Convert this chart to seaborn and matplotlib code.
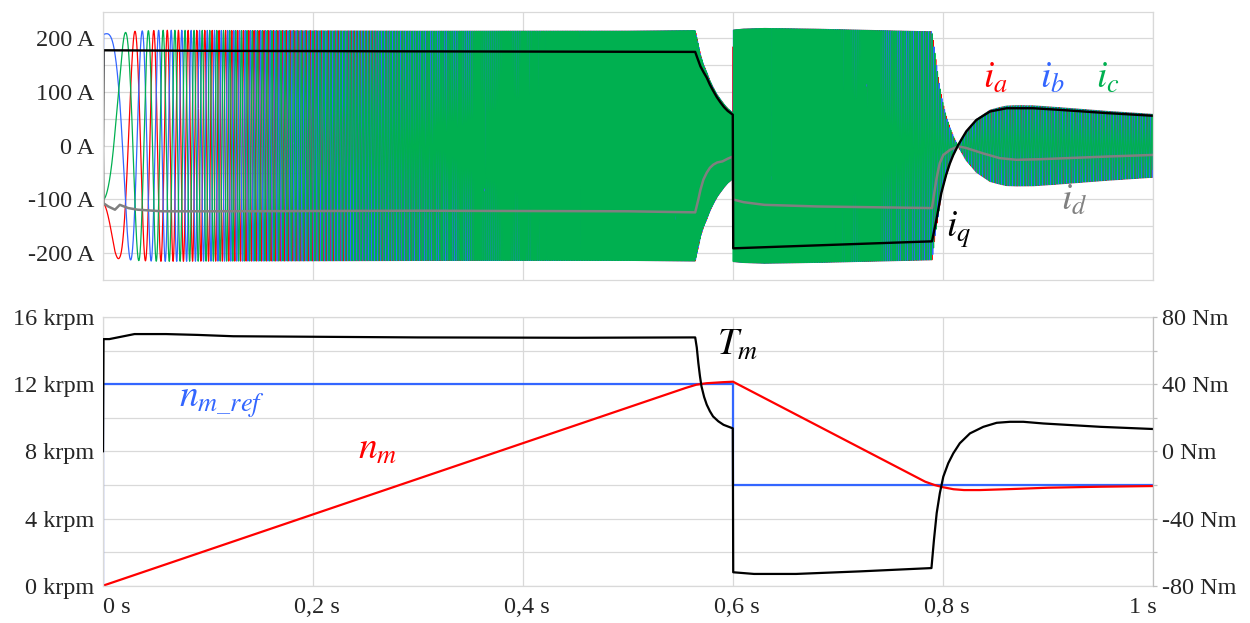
import numpy as np
import matplotlib
matplotlib.use("Agg")
import matplotlib.pyplot as plt
from matplotlib.ticker import FixedLocator
from matplotlib.transforms import ScaledTranslation
import seaborn as sns

# ---------------- traces (time in s) ----------------
# d-axis stator current, A
t_id = [0.0, 0.0005, 0.005, 0.0114, 0.016, 0.024, 0.033, 0.056, 0.1, 0.3, 0.5,
        0.564, 0.5655, 0.567, 0.569, 0.5718, 0.575, 0.578, 0.5813, 0.585,
        0.590, 0.595, 0.5998,
        0.6002, 0.61, 0.63, 0.68, 0.7895, 0.7915, 0.7937, 0.7955, 0.797,
        0.8003, 0.8067, 0.8146, 0.822, 0.838, 0.854, 0.870, 0.892, 0.956, 1.0]
i_d = [0, -107, -113, -119, -110, -116, -119, -122, -122, -121, -122,
       -124, -112, -100, -82, -63, -50, -41, -35, -31,
       -29, -24, -20,
       -100, -105, -110, -113, -116, -90, -63, -45, -32,
       -17, -7.5, -1, -4, -14, -23, -26, -25, -20, -17]

# q-axis stator current, A
t_iq = [0.0, 0.0005, 0.1, 0.3, 0.564, 0.566, 0.569, 0.572, 0.575, 0.578,
        0.581, 0.5845, 0.588, 0.5915, 0.595, 0.5998, 0.6002, 0.7895, 0.7937,
        0.7984, 0.803, 0.8065, 0.8098, 0.8146, 0.8222, 0.8317, 0.8448,
        0.8606, 0.886, 0.911, 0.956, 1.0]
i_q = [0, 178, 177, 176, 175, 164, 148, 137, 127, 114,
       103, 91, 81, 72, 65, 58, -191, -178, -138,
       -88, -54, -33, -17, 2, 27, 48, 64,
       70, 70, 67, 61, 56]

# rotor speed, krpm
t_nm = [0.0, 0.555, 0.565, 0.575, 0.59, 0.6, 0.783, 0.792, 0.80, 0.81,
        0.82, 0.835, 0.865, 0.90, 0.95, 1.0]
n_m = [0.0, 11.79, 11.98, 12.07, 12.13, 12.16, 6.2, 6.0, 5.87, 5.75,
       5.70, 5.70, 5.76, 5.84, 5.90, 5.94]

# speed reference, krpm
t_ref = [0.0, 0.0, 0.6, 0.6, 1.0]
n_ref = [0.0, 12.0, 12.0, 6.0, 6.0]

# electromagnetic torque, Nm
t_tm = [0.0, 0.0005, 0.006, 0.03, 0.06, 0.09, 0.124, 0.3, 0.45, 0.564,
        0.5655, 0.567, 0.5685, 0.570, 0.5725, 0.575, 0.578, 0.581, 0.586,
        0.591, 0.5998, 0.6002, 0.62, 0.66,
        0.72, 0.789, 0.7914, 0.794, 0.797, 0.8003, 0.805, 0.8098, 0.816,
        0.8257, 0.8384, 0.8511, 0.8638, 0.8765, 0.8955, 0.95, 1.0]
t_m = [0, 67, 67, 70, 70, 69.5, 68.7, 68, 67.8, 68,
       62, 52.7, 45, 38.8, 32.5, 27.9, 24, 20.9, 18,
       15.9, 13.8, -72, -73, -73,
       -71.5, -69.5, -52.6, -36.7, -24.8, -15, -7, -1.1, 4.9,
       10.8, 14.7, 17.1, 17.7, 17.7, 16.7, 14.7, 13.4]

POLE_PAIRS = 4

# ---------------- axis ticks ----------------
time_ticks = [0.0, 0.2, 0.4, 0.6, 0.8, 1.0]
time_labels = ["0 s", "0,2 s", "0,4 s", "0,6 s", "0,8 s", "1 s"]
cur_ticks = [-200, -100, 0, 100, 200]
cur_labels = ["-200 A", "-100 A", "0 A", "100 A", "200 A"]
speed_ticks = [0, 4, 8, 12, 16]
speed_labels = ["0 krpm", "4 krpm", "8 krpm", "12 krpm", "16 krpm"]
torque_ticks = [-80, -40, 0, 40, 80]
torque_labels = ["-80 Nm", "-40 Nm", "0 Nm", "40 Nm", "80 Nm"]

RED = "#FF0000"
BLUE = "#3366FF"
GREEN = "#00B050"
GREY = "#808080"
GRID = "#D9D9D9"

sns.set_theme(style="white")
plt.rcParams.update({
    "font.family": ["Liberation Serif", "DejaVu Serif"],
    "mathtext.fontset": "stix",
    "agg.path.chunksize": 20000,
    "axes.unicode_minus": False,
})

# ---------------- phase currents via inverse Park transform ----------------
t = np.linspace(0.0, 1.0, 200001)
d = np.interp(t, t_id, i_d)
q = np.interp(t, t_iq, i_q)
speed_rps = np.interp(t, t_nm, n_m) * 1000.0 / 60.0
theta_mech = 2 * np.pi * np.concatenate(
    [[0.0], np.cumsum(0.5 * (speed_rps[1:] + speed_rps[:-1]) * np.diff(t))])
theta = POLE_PAIRS * theta_mech


def phase_current(shift):
    return d * np.cos(theta - shift) - q * np.sin(theta - shift)


i_a = phase_current(0.0)
i_b = phase_current(2 * np.pi / 3)
i_c = phase_current(-2 * np.pi / 3)

# ---------------- figure ----------------
fig = plt.figure(figsize=(12.5, 6.23), dpi=100)
ax1 = fig.add_axes([0.0824, 0.5506, 0.84, 0.4307])
ax2 = fig.add_axes([0.0824, 0.0599, 0.84, 0.4308])
ax3 = ax2.twinx()

TICK_FS = 17.5
LABEL_FS = 27

# top: currents
for y, c in ((i_a, RED), (i_b, BLUE), (i_c, GREEN)):
    sns.lineplot(x=t, y=y, ax=ax1, color=c, lw=0.9, estimator=None, sort=False)
sns.lineplot(x=t_id, y=i_d, ax=ax1, color=GREY, lw=1.8, estimator=None, sort=False)
sns.lineplot(x=t_iq, y=i_q, ax=ax1, color="black", lw=1.7, estimator=None, sort=False)

ax1.set_xlim(0, 1)
ax1.set_ylim(-250, 250)
ax1.xaxis.set_major_locator(FixedLocator(time_ticks))
ax1.set_xticklabels([])
ax1.yaxis.set_major_locator(FixedLocator(cur_ticks))
ax1.yaxis.set_minor_locator(FixedLocator([-150, -50, 50, 150]))
ax1.set_yticklabels(cur_labels)
ax1.tick_params(axis="both", which="both", length=0)
ax1.tick_params(axis="y", labelsize=TICK_FS, pad=6)
ax1.grid(True, which="both", color=GRID, lw=0.9)
for s in ax1.spines.values():
    s.set_color(GRID)
    s.set_linewidth(0.9)
ax1.set_xlabel("")
ax1.set_ylabel("")

ax1.text(0.838, 107, r"$i_a$", color=RED, fontsize=LABEL_FS, va="baseline", ha="left")
ax1.text(0.892, 107, r"$i_b$", color=BLUE, fontsize=LABEL_FS, va="baseline", ha="left")
ax1.text(0.946, 107, r"$i_c$", color=GREEN, fontsize=LABEL_FS, va="baseline", ha="left")
ax1.text(0.912, -119, r"$i_d$", color=GREY, fontsize=LABEL_FS, va="baseline", ha="left")
ax1.text(0.803, -169, r"$i_q$", color="black", fontsize=LABEL_FS, va="baseline", ha="left")

# bottom: speed and torque
sns.lineplot(x=t_ref, y=n_ref, ax=ax2, color=BLUE, lw=1.6, estimator=None, sort=False)
sns.lineplot(x=t_nm, y=n_m, ax=ax2, color=RED, lw=1.6, estimator=None, sort=False)
sns.lineplot(x=t_tm, y=t_m, ax=ax3, color="black", lw=1.6, estimator=None, sort=False)

ax2.set_xlim(0, 1)
ax2.set_ylim(0, 16)
ax3.set_ylim(-80, 80)
ax2.xaxis.set_major_locator(FixedLocator(time_ticks))
ax2.set_xticklabels(time_labels)
ax2.yaxis.set_major_locator(FixedLocator(speed_ticks))
ax2.yaxis.set_minor_locator(FixedLocator([2, 6, 10, 14]))
ax2.set_yticklabels(speed_labels)
ax2.tick_params(axis="both", which="both", length=0)
ax2.tick_params(axis="y", labelsize=TICK_FS, pad=6)
ax2.tick_params(axis="x", labelsize=TICK_FS, pad=8)
ax2.grid(True, which="both", color=GRID, lw=0.9)
for name, s in ax2.spines.items():
    s.set_color(GRID)
    s.set_linewidth(0.9)
ax2.spines["right"].set_visible(False)
ax2.set_xlabel("")
ax2.set_ylabel("")

ax3.yaxis.set_major_locator(FixedLocator(torque_ticks))
ax3.yaxis.set_minor_locator(FixedLocator([-60, -20, 20, 60]))
ax3.set_yticklabels(torque_labels)
ax3.tick_params(axis="y", which="both", length=3, width=0.9, color="#BFBFBF",
                labelsize=TICK_FS, pad=3.5)
for name, s in ax3.spines.items():
    s.set_visible(name == "right")
ax3.spines["right"].set_color("#BFBFBF")
ax3.spines["right"].set_linewidth(0.9)
ax3.set_ylabel("")
ax3.grid(False)

# edge time labels stay inside the plot width
xlabels = ax2.get_xticklabels()
xlabels[0].set_ha("left")
xlabels[-1].set_ha("right")
shift = ScaledTranslation(4 / 100, 0, fig.dpi_scale_trans)
for lab in xlabels[1:]:
    lab.set_transform(lab.get_transform() + shift)

ax2.text(0.072, 10.63, r"$n_{m\_ref}$", color=BLUE, fontsize=LABEL_FS, va="baseline", ha="left")
ax2.text(0.243, 7.53, r"$n_m$", color=RED, fontsize=LABEL_FS, va="baseline", ha="left")
ax2.text(0.585, 13.75, r"$T_m$", color="black", fontsize=LABEL_FS, va="baseline", ha="left")

fig.savefig("out.png", dpi=100, facecolor="white")
